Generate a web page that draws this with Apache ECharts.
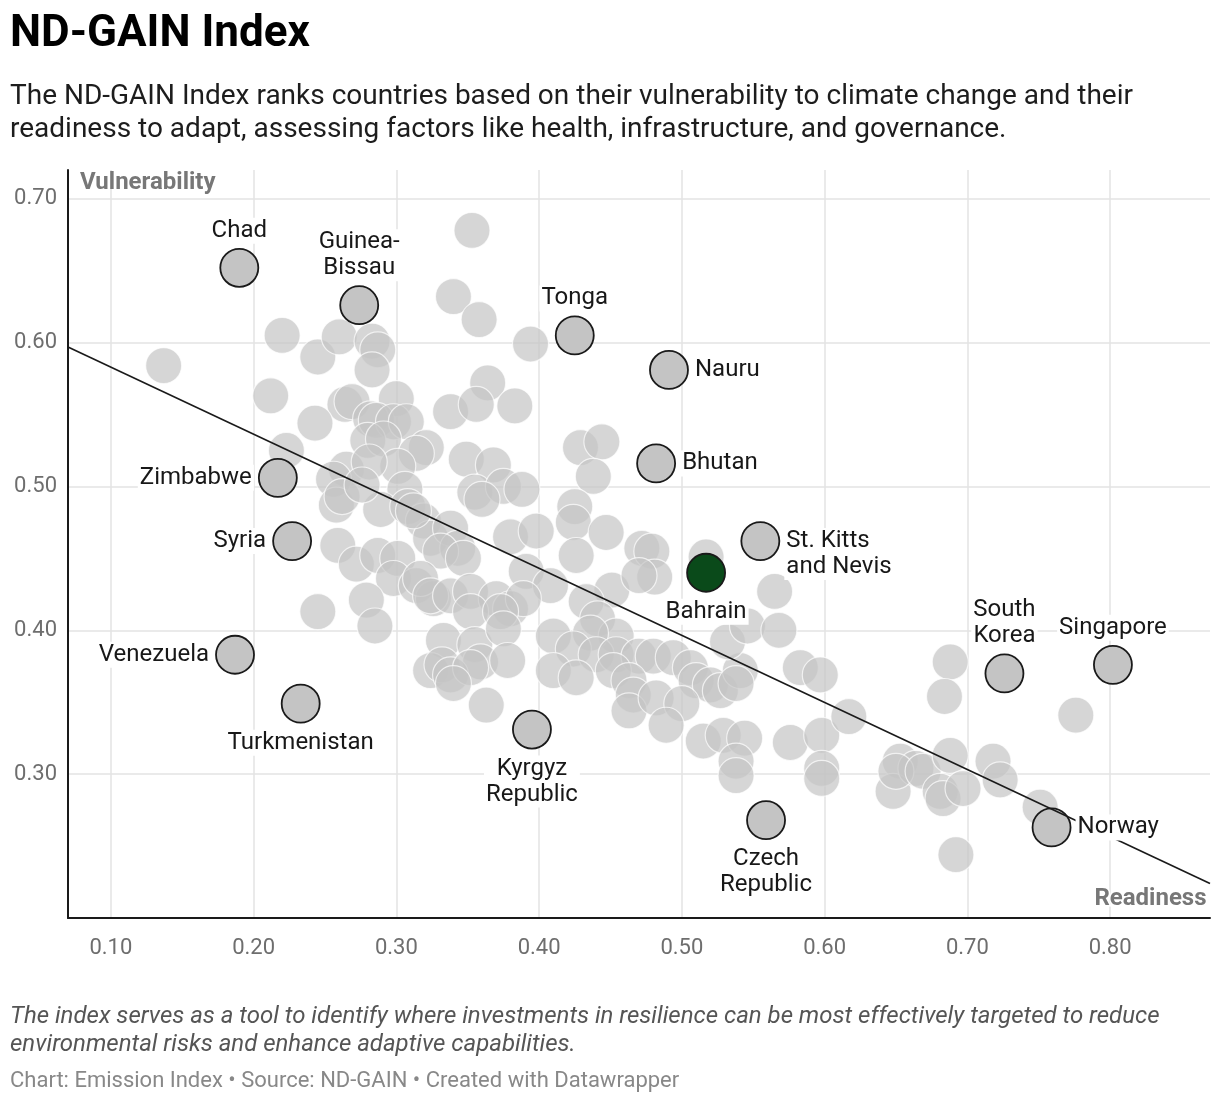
<!DOCTYPE html>
<html>
<head>
<meta charset="utf-8">
<title>ND-GAIN Index</title>
<script src="https://cdn.jsdelivr.net/npm/echarts@6/dist/echarts.min.js"></script>
<style>
  html, body { margin: 0; padding: 0; background: #fff; }
  #chart { width: 1220px; height: 1102px; }
</style>
</head>
<body>
<div id="chart"></div>
<script>
// other countries: [readiness, vulnerability]
const otherCountries = [
  [0.353, 0.678], [0.340, 0.632], [0.358, 0.616], [0.394, 0.599], [0.220, 0.605],
  [0.137, 0.584], [0.245, 0.590], [0.260, 0.604], [0.283, 0.601], [0.287, 0.595],
  [0.283, 0.581], [0.212, 0.563], [0.264, 0.557], [0.269, 0.559], [0.300, 0.561],
  [0.338, 0.552], [0.364, 0.572], [0.383, 0.556], [0.356, 0.557], [0.243, 0.544],
  [0.282, 0.547], [0.286, 0.546], [0.298, 0.545], [0.307, 0.545], [0.280, 0.532],
  [0.291, 0.533], [0.321, 0.527], [0.314, 0.523], [0.301, 0.514], [0.349, 0.519],
  [0.368, 0.515], [0.223, 0.525], [0.265, 0.512], [0.256, 0.505], [0.281, 0.517],
  [0.306, 0.498], [0.258, 0.487], [0.262, 0.493], [0.289, 0.484], [0.308, 0.486],
  [0.319, 0.476], [0.324, 0.464], [0.259, 0.459], [0.272, 0.446], [0.287, 0.452],
  [0.301, 0.450], [0.298, 0.436], [0.314, 0.431], [0.279, 0.421], [0.245, 0.413],
  [0.285, 0.403], [0.326, 0.422], [0.355, 0.496], [0.375, 0.500], [0.388, 0.498],
  [0.360, 0.491], [0.429, 0.527], [0.444, 0.531], [0.438, 0.507], [0.425, 0.486],
  [0.424, 0.475], [0.447, 0.468], [0.426, 0.452], [0.380, 0.465], [0.398, 0.469],
  [0.472, 0.457], [0.479, 0.455], [0.481, 0.437], [0.391, 0.441], [0.408, 0.431],
  [0.451, 0.428], [0.433, 0.420], [0.312, 0.483], [0.338, 0.471], [0.343, 0.457],
  [0.331, 0.455], [0.347, 0.450], [0.317, 0.436], [0.324, 0.424], [0.338, 0.424],
  [0.352, 0.427], [0.370, 0.422], [0.352, 0.413], [0.380, 0.415], [0.389, 0.422],
  [0.517, 0.451], [0.565, 0.427], [0.470, 0.438], [0.441, 0.408], [0.454, 0.396],
  [0.436, 0.398], [0.410, 0.396], [0.424, 0.387], [0.440, 0.383], [0.454, 0.383],
  [0.470, 0.382], [0.480, 0.382], [0.494, 0.381], [0.506, 0.374], [0.510, 0.365],
  [0.520, 0.362], [0.410, 0.372], [0.426, 0.367], [0.452, 0.372], [0.463, 0.365],
  [0.466, 0.355], [0.463, 0.344], [0.482, 0.353], [0.500, 0.349], [0.489, 0.334],
  [0.527, 0.358], [0.541, 0.372], [0.532, 0.392], [0.546, 0.403], [0.568, 0.400],
  [0.583, 0.374], [0.597, 0.369], [0.515, 0.323], [0.529, 0.327], [0.544, 0.325],
  [0.538, 0.309], [0.538, 0.299], [0.576, 0.322], [0.598, 0.327], [0.598, 0.304],
  [0.598, 0.297], [0.617, 0.340], [0.538, 0.363], [0.653, 0.309], [0.648, 0.288],
  [0.664, 0.304], [0.688, 0.378], [0.684, 0.354], [0.776, 0.341], [0.650, 0.302],
  [0.669, 0.302], [0.688, 0.313], [0.681, 0.288], [0.683, 0.283], [0.697, 0.290],
  [0.718, 0.309], [0.723, 0.296], [0.751, 0.277], [0.692, 0.244], [0.373, 0.413],
  [0.333, 0.393], [0.355, 0.390], [0.375, 0.401], [0.359, 0.378], [0.378, 0.379],
  [0.324, 0.372], [0.332, 0.376], [0.338, 0.369], [0.352, 0.374], [0.340, 0.363],
  [0.363, 0.348], [0.276, 0.501]
];

// labelled countries
const highlightNames = [
  'Chad', 'Guinea-\nBissau', 'Tonga', 'Nauru', 'Bhutan', 'St. Kitts\nand Nevis',
  'Zimbabwe', 'Syria', 'Venezuela', 'Turkmenistan', 'Kyrgyz\nRepublic',
  'Czech\nRepublic', 'South\nKorea', 'Singapore', 'Norway'
];
const highlightReadiness = [
  0.190, 0.274, 0.425, 0.491, 0.482, 0.555,
  0.217, 0.227, 0.187, 0.233, 0.395,
  0.559, 0.726, 0.802, 0.759
];
const highlightVulnerability = [
  0.652, 0.626, 0.605, 0.581, 0.516, 0.462,
  0.506, 0.462, 0.383, 0.349, 0.331,
  0.268, 0.370, 0.376, 0.263
];

const bahrain = { name: 'Bahrain', readiness: 0.517, vulnerability: 0.440 };

// fitted line end points
const trendReadiness = [0.07, 0.87];
const trendVulnerability = [0.597, 0.224];

// where each label sits relative to its dot
const labelPlace = {
  'Chad': 'top', 'Guinea-\nBissau': 'top', 'Tonga': 'top', 'Nauru': 'right',
  'Bhutan': 'right', 'St. Kitts\nand Nevis': 'right', 'Zimbabwe': 'left',
  'Syria': 'left', 'Venezuela': 'left', 'Turkmenistan': 'bottom',
  'Kyrgyz\nRepublic': 'bottom', 'Czech\nRepublic': 'bottom',
  'South\nKorea': 'top', 'Singapore': 'top', 'Norway': 'right', 'Bahrain': 'bottom'
};

const FONT = 'Roboto, "Noto Sans", sans-serif';

const highlightData = highlightNames.map((n, i) => ({
  name: n,
  value: [highlightReadiness[i], highlightVulnerability[i]]
}));
const allLabelled = highlightData.concat([{
  name: bahrain.name,
  value: [bahrain.readiness, bahrain.vulnerability]
}]);

const labelData = allLabelled.map(d => {
  const pos = labelPlace[d.name];
  const lab = { show: true, position: pos, distance: pos === 'bottom' ? 6 : 4 };
  if (d.name === 'St. Kitts\nand Nevis') lab.offset = [0, 13];
  return { name: d.name, value: d.value, label: lab };
});

function tickFmt(v) {
  const k = v * 10;
  if (Math.abs(k - Math.round(k)) > 1e-6) return '';
  return v.toFixed(2);
}

const chart = echarts.init(document.getElementById('chart'), null, { renderer: 'canvas' });

chart.setOption({
  animation: false,
  backgroundColor: '#fff',
  textStyle: { fontFamily: FONT },
  grid: { left: 68, right: 10, top: 170, bottom: 184, containLabel: false },
  xAxis: {
    type: 'value',
    min: 0.07,
    max: 0.87,
    splitNumber: 8,
    axisLine: { show: true, lineStyle: { color: '#1a1a1a', width: 2 } },
    axisTick: { show: false },
    axisLabel: {
      formatter: tickFmt, color: '#6e6e6e', fontSize: 22, fontFamily: FONT, margin: 19,
      showMinLabel: false, showMaxLabel: false
    },
    splitLine: {
      show: true, showMinLine: false, showMaxLine: false,
      lineStyle: { color: '#e3e3e3', width: 1.5 }
    }
  },
  yAxis: {
    type: 'value',
    min: 0.2,
    max: 0.72,
    interval: 0.1,
    axisLine: { show: true, lineStyle: { color: '#1a1a1a', width: 2 } },
    axisTick: { show: false },
    axisLabel: {
      formatter: v => (v < 0.25 ? '' : tickFmt(v)), color: '#6e6e6e', fontSize: 22,
      fontFamily: FONT, margin: 11, showMinLabel: false, showMaxLabel: false
    },
    splitLine: {
      show: true, showMinLine: false, showMaxLine: false,
      lineStyle: { color: '#e3e3e3', width: 1.5 }
    }
  },
  series: [
    {
      name: 'Countries',
      type: 'scatter',
      z: 1,
      symbolSize: 36,
      silent: true,
      itemStyle: { color: '#c4c4c4', opacity: 0.7, borderColor: '#fff', borderWidth: 1.2 },
      data: otherCountries
    },
    {
      name: 'Highlighted',
      type: 'scatter',
      z: 2,
      symbolSize: 38,
      silent: true,
      itemStyle: { color: '#c4c4c4', opacity: 1, borderColor: '#1a1a1a', borderWidth: 1.8 },
      data: highlightData
    },
    {
      name: 'Bahrain',
      type: 'scatter',
      z: 2,
      symbolSize: 38,
      silent: true,
      itemStyle: { color: '#0a4a1a', opacity: 1, borderColor: '#1a1a1a', borderWidth: 1.8 },
      data: [[bahrain.readiness, bahrain.vulnerability]]
    },
    {
      name: 'Trend',
      type: 'line',
      z: 3,
      silent: true,
      symbol: 'none',
      lineStyle: { color: '#1a1a1a', width: 1.6 },
      data: trendReadiness.map((x, i) => [x, trendVulnerability[i]])
    },
    {
      name: 'Labels',
      type: 'scatter',
      z: 5,
      symbolSize: 40,
      silent: true,
      itemStyle: { color: 'rgba(0,0,0,0)', opacity: 1 },
      label: {
        formatter: p => p.name,
        color: '#181818',
        fontSize: 24,
        lineHeight: 26,
        fontFamily: FONT,
        backgroundColor: '#fff',
        padding: [0, 2],
        textBorderColor: '#fff',
        textBorderWidth: 3
      },
      data: labelData
    }
  ],
  graphic: [
    {
      type: 'text', left: 10, top: 13,
      style: { text: 'ND-GAIN Index', font: 'bold 44px ' + FONT, fill: '#000' }
    },
    {
      type: 'text', left: 10, top: 80,
      style: {
        text: 'The ND-GAIN Index ranks countries based on their vulnerability to climate change and their\nreadiness to adapt, assessing factors like health, infrastructure, and governance.',
        font: '28px ' + FONT, lineHeight: 33, fill: '#1d1d1d'
      }
    },
    {
      type: 'text', left: 80, top: 171, z: 10,
      style: { text: 'Vulnerability', font: 'bold 24px ' + FONT, fill: '#777' }
    },
    {
      type: 'text', right: 12, top: 885, z: 10,
      style: { text: 'Readiness', font: 'bold 24px ' + FONT, fill: '#777', stroke: '#fff', lineWidth: 3 }
    },
    {
      type: 'text', left: 10, top: 1003,
      style: {
        text: 'The index serves as a tool to identify where investments in resilience can be most effectively targeted to reduce\nenvironmental risks and enhance adaptive capabilities.',
        font: 'italic 24px ' + FONT, lineHeight: 28, fill: '#555'
      }
    },
    {
      type: 'text', left: 10, top: 1070,
      style: {
        text: 'Chart: Emission Index \u2022 Source: ND-GAIN \u2022 Created with Datawrapper',
        font: '22px ' + FONT, fill: '#888'
      }
    }
  ]
});
</script>
</body>
</html>
